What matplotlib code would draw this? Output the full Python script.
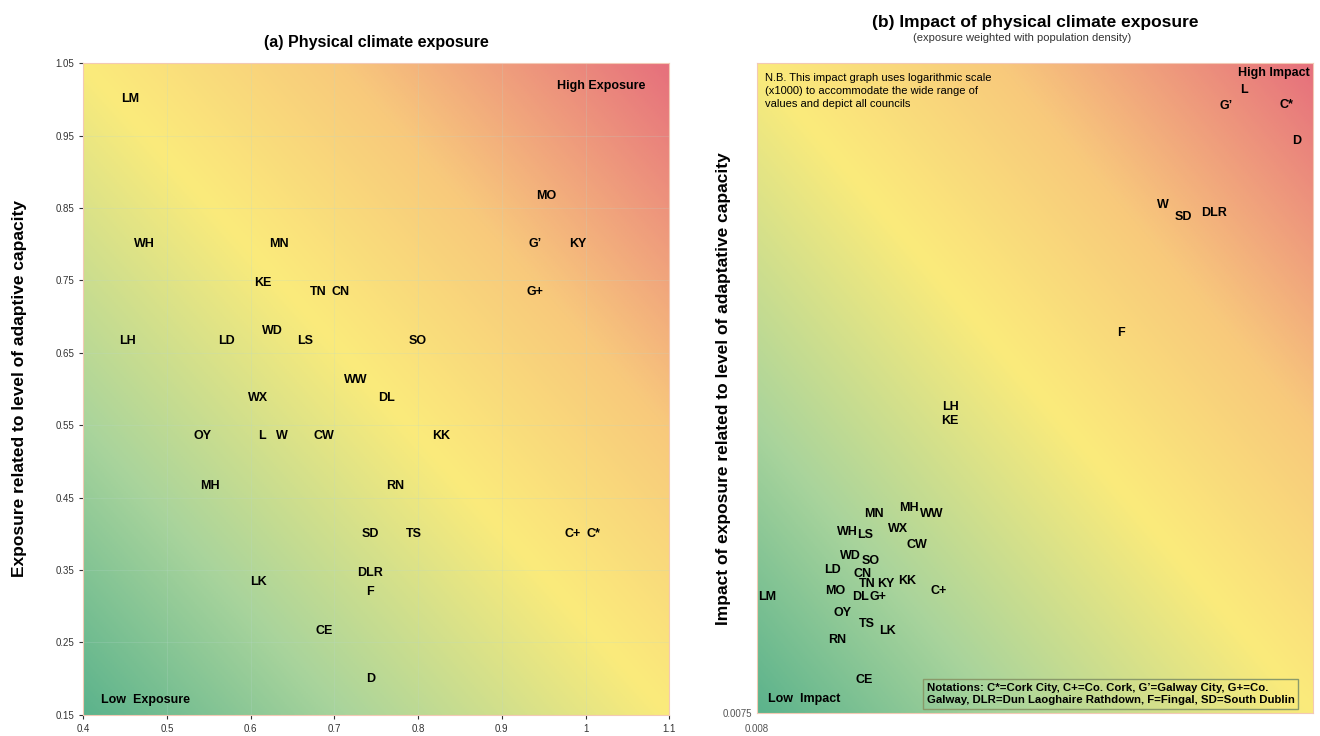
import numpy as np
import matplotlib.pyplot as plt
from matplotlib.colors import LinearSegmentedColormap

plt.rcParams['font.family'] = ['Liberation Sans', 'DejaVu Sans']

# (a) exposure vs adaptive capacity
labels_a = ['LM', 'WH', 'MN', 'MO', 'G\u2019', 'KY', 'KE', 'TN', 'CN', 'G+', 'WD', 'LH',
            'LD', 'LS', 'SO', 'WW', 'WX', 'DL', 'OY', 'L', 'W', 'CW', 'KK', 'MH',
            'RN', 'SD', 'TS', 'C+', 'C*', 'DLR', 'LK', 'F', 'CE', 'D']
exposure_x = [0.456, 0.473, 0.634, 0.953, 0.940, 0.991, 0.614, 0.681, 0.707, 0.940,
              0.626, 0.453, 0.571, 0.665, 0.800, 0.725, 0.609, 0.762, 0.542, 0.614,
              0.637, 0.688, 0.827, 0.551, 0.773, 0.743, 0.795, 0.985, 1.009, 0.743,
              0.609, 0.743, 0.688, 0.743]
exposure_y = [1.000, 0.800, 0.800, 0.866, 0.800, 0.800, 0.746, 0.734, 0.734, 0.734,
              0.680, 0.666, 0.666, 0.666, 0.666, 0.612, 0.587, 0.587, 0.535, 0.535,
              0.535, 0.535, 0.535, 0.466, 0.466, 0.399, 0.399, 0.399, 0.399, 0.346,
              0.333, 0.319, 0.265, 0.199]

# (b) impact, log scale
labels_b = ['L', 'G\u2019', 'C*', 'D', 'W', 'SD', 'DLR', 'F', 'LH', 'KE', 'MN', 'MH',
            'WW', 'WX', 'WH', 'LS', 'CW', 'WD', 'SO', 'LD', 'CN', 'TN', 'KY', 'KK',
            'MO', 'C+', 'DL', 'G+', 'LM', 'OY', 'TS', 'LK', 'RN', 'CE']
impact_x = [0.452, 0.389, 0.645, 0.700, 0.231, 0.275, 0.352, 0.163, 0.0396, 0.0396,
            0.0211, 0.0282, 0.0341, 0.0257, 0.0169, 0.0196, 0.0301, 0.0174, 0.0206,
            0.0149, 0.0192, 0.0199, 0.0233, 0.0277, 0.0153, 0.0361, 0.0188, 0.0218,
            0.00869, 0.0163, 0.0199, 0.0235, 0.0155, 0.0194]
impact_y = [0.620, 0.553, 0.557, 0.431, 0.274, 0.252, 0.259, 0.111, 0.0655, 0.0593,
            0.0307, 0.0320, 0.0307, 0.0276, 0.0271, 0.0265, 0.0247, 0.0228, 0.0220,
            0.0207, 0.0201, 0.0187, 0.0187, 0.0192, 0.0178, 0.0178, 0.0171, 0.0171,
            0.0171, 0.0153, 0.0141, 0.0134, 0.0126, 0.00948]

grad = LinearSegmentedColormap.from_list(
    'risk', [(0.0, '#5cb38c'), (0.22, '#a9d49c'), (0.5, '#fbeb7b'),
             (0.72, '#f8c97c'), (1.0, '#e6707c')])


def background(ax):
    u, v = np.meshgrid(np.linspace(0, 1, 300), np.linspace(0, 1, 300))
    t = (u + v) / 2
    ax.imshow(t, cmap=grad, origin='lower', extent=[0, 1, 0, 1],
              transform=ax.transAxes, aspect='auto', zorder=0, vmin=0, vmax=1)
    for s in ax.spines.values():
        s.set_color('#f3c9b5')
        s.set_linewidth(0.8)


fig = plt.figure(figsize=(13.2, 7.36), dpi=100)

ax1 = fig.add_axes([0.063, 0.029, 0.444, 0.885])
background(ax1)
ax1.set_xlim(0.4, 1.1)
ax1.set_ylim(0.15, 1.05)
ax1.set_xticks(np.arange(0.4, 1.11, 0.1))
ax1.set_xticklabels(['0.4', '0.5', '0.6', '0.7', '0.8', '0.9', '1', '1.1'])
ax1.set_yticks(np.arange(0.15, 1.06, 0.1))
ax1.set_yticklabels(['%.2f' % v for v in np.arange(0.15, 1.06, 0.1)])
ax1.grid(True, color='#b8d8d0', lw=0.5, alpha=0.3, zorder=1)
ax1.tick_params(labelsize=7, colors='#333333', length=3)
for lab, x, y in zip(labels_a, exposure_x, exposure_y):
    ax1.text(x, y, lab, ha='center', va='center', fontsize=9, fontweight='bold', zorder=3)
ax1.text(0.96, 0.965, 'High Exposure', transform=ax1.transAxes, ha='right', va='center',
         fontsize=9, fontweight='bold')
ax1.text(0.03, 0.013, 'Low  Exposure', transform=ax1.transAxes, ha='left', va='bottom',
         fontsize=9, fontweight='bold')
ax1.set_title('(a) Physical climate exposure', fontsize=11.5, fontweight='bold', pad=12)
ax1.set_ylabel('Exposure related to level of adaptive capacity', fontsize=12.5,
               fontweight='bold', labelpad=20)

ax2 = fig.add_axes([0.5735, 0.031, 0.421, 0.883])
background(ax2)
ax2.set_xscale('log')
ax2.set_yscale('log')
ax2.set_xlim(0.008, 0.8)
ax2.set_ylim(0.0075, 0.75)
ax2.set_xticks([0.008])
ax2.set_xticklabels(['0.008'])
ax2.set_yticks([0.0075])
ax2.set_yticklabels(['0.0075'])
ax2.minorticks_off()
ax2.tick_params(labelsize=7, colors='#555555', length=0)
ax2.tick_params(axis='x', pad=8)
for lab, x, y in zip(labels_b, impact_x, impact_y):
    ax2.text(x, y, lab, ha='center', va='center', fontsize=9, fontweight='bold', zorder=3)
ax2.text(0.995, 0.985, 'High Impact', transform=ax2.transAxes, ha='right', va='center',
         fontsize=9, fontweight='bold')
ax2.text(0.02, 0.013, 'Low  Impact', transform=ax2.transAxes, ha='left', va='bottom',
         fontsize=9, fontweight='bold')
ax2.text(0.015, 0.985, 'N.B. This impact graph uses logarithmic scale\n(x1000) to accommodate the wide range of\nvalues and depict all councils',
         transform=ax2.transAxes, ha='left', va='top', fontsize=8, linespacing=1.35)
ax2.text(0.305, 0.012,
         'Notations: C*=Cork City, C+=Co. Cork, G\u2019=Galway City, G+=Co.\nGalway, DLR=Dun Laoghaire Rathdown, F=Fingal, SD=South Dublin',
         transform=ax2.transAxes, ha='left', va='bottom', fontsize=8.2, fontweight='bold',
         linespacing=1.3,
         bbox=dict(boxstyle='square,pad=0.35', fc='none', ec='#8a9a6a', lw=1))
ax2.set_title('(b) Impact of physical climate exposure', fontsize=12.5, fontweight='bold',
              pad=26)
fig.text(0.774, 0.948, '(exposure weighted with population density)', ha='center',
         va='center', fontsize=8, color='#333333')
ax2.set_ylabel('Impact of exposure related to level of adaptative capacity', fontsize=12.5,
               fontweight='bold', labelpad=-6)

fig.savefig('out.png', dpi=100)
